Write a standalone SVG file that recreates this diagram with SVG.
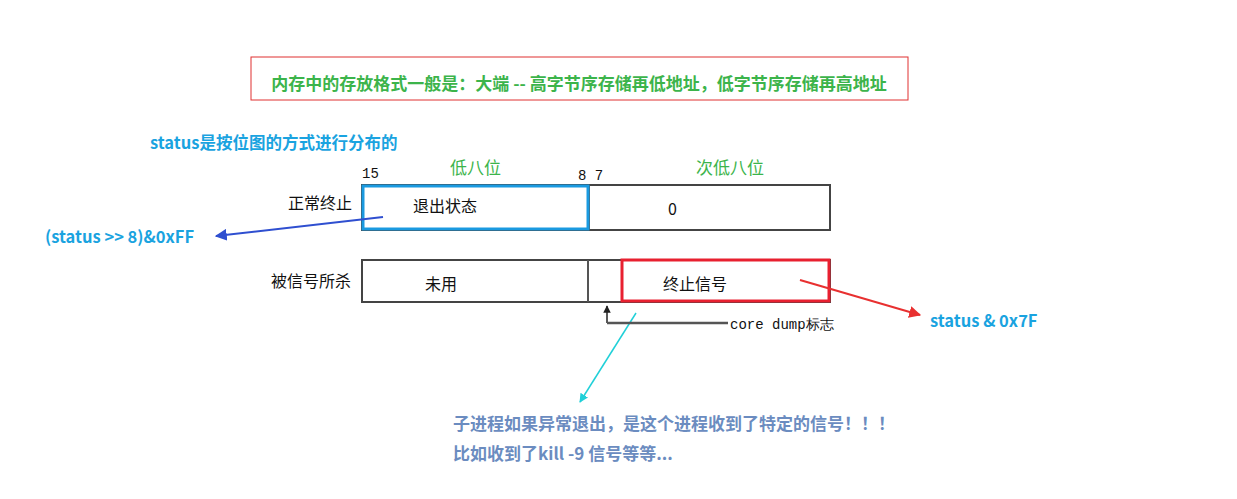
<svg xmlns="http://www.w3.org/2000/svg" width="1237" height="499" viewBox="0 0 1237 499">
<style>
text{font-family:"Noto Sans CJK SC","Liberation Sans",sans-serif}
.n{font-size:16px;fill:#111}
.g{font-size:17px;fill:#3cb44b}
.b{font-size:16.5px;font-weight:bold;fill:#1aa3e0}
.s{font-size:17px;font-weight:bold;fill:#6b8cc0}
.m{font-family:"Liberation Mono",monospace;font-size:14px;fill:#111}
.box{fill:#fff;stroke:#444;stroke-width:2}
</style>
<defs>
<marker id="ab" viewBox="0 0 10 10" refX="9" refY="5" markerWidth="6" markerHeight="6" orient="auto"><path d="M0,0L10,5L0,10z" fill="#2f4fd0"/></marker>
<marker id="ar" viewBox="0 0 10 10" refX="9" refY="5" markerWidth="6" markerHeight="6" orient="auto"><path d="M0,0L10,5L0,10z" fill="#e83030"/></marker>
<marker id="ac" viewBox="0 0 10 10" refX="9" refY="5" markerWidth="6" markerHeight="6" orient="auto"><path d="M0,0L10,5L0,10z" fill="#20d0d8"/></marker>
<marker id="ak" viewBox="0 0 10 10" refX="9" refY="5" markerWidth="5" markerHeight="5" orient="auto"><path d="M0,0L10,5L0,10z" fill="#222"/></marker>
</defs>
<g id="title"><rect x="251" y="57" width="657" height="43" fill="#fff" stroke="#e03030" stroke-width="1"/>
<text x="579" y="90" text-anchor="middle" style="font-size:17px;font-weight:bold;fill:#3cb44b">内存中的存放格式一般是：大端 -- 高字节序存储再低地址，低字节序存储再高地址</text></g>
<text x="150" y="149" class="b">status是按位图的方式进行分布的</text>
<text x="362" y="178" class="m">15</text>
<text x="450" y="174" class="g">低八位</text>
<text x="578" y="180" class="m">8 7</text>
<text x="696" y="174" class="g">次低八位</text>
<g id="row1">
<rect x="362" y="185" width="468" height="45" class="box"/>
<line x1="589" y1="186" x2="589" y2="229" stroke="#555" stroke-width="2"/>
<rect x="363" y="186" width="225" height="43" fill="none" stroke="#1a9ae0" stroke-width="3"/>
<text x="288" y="209" class="n">正常终止</text>
<text x="413" y="212" class="n">退出状态</text>
<text x="668" y="215" class="n">0</text>
</g>
<g id="row2">
<rect x="362" y="260" width="468" height="42" class="box"/>
<line x1="588" y1="260" x2="588" y2="302" stroke="#555" stroke-width="2"/>
<rect x="622" y="260" width="207" height="41" fill="#fff" stroke="#e82030" stroke-width="3"/>
<text x="271" y="287" class="n">被信号所杀</text>
<text x="425" y="290" class="n">未用</text>
<text x="663" y="290" class="n">终止信号</text>
</g>
<g id="connectors">
<line x1="383" y1="217" x2="216" y2="236" stroke="#2f4fd0" stroke-width="2" marker-end="url(#ab)"/>
<line x1="800" y1="280" x2="920" y2="315" stroke="#e83030" stroke-width="2" marker-end="url(#ar)"/>
<line x1="636" y1="313" x2="580" y2="402" stroke="#20d0d8" stroke-width="1.5" marker-end="url(#ac)"/>
<line x1="607" y1="323" x2="607" y2="306" stroke="#222" stroke-width="1.5" marker-end="url(#ak)"/>
<line x1="607" y1="323" x2="728" y2="323" stroke="#555" stroke-width="2.5"/>
</g>
<text x="45" y="243" class="b">(status &gt;&gt; 8)&amp;0xFF</text>
<text x="930" y="327" class="b">status &amp; 0x7F</text>
<text x="730" y="329" class="m">core dump标志</text>
<text x="453" y="430" class="s">子进程如果异常退出，是这个进程收到了特定的信号！！！</text>
<text x="453" y="460" class="s">比如收到了kill -9 信号等等...</text>
</svg>
